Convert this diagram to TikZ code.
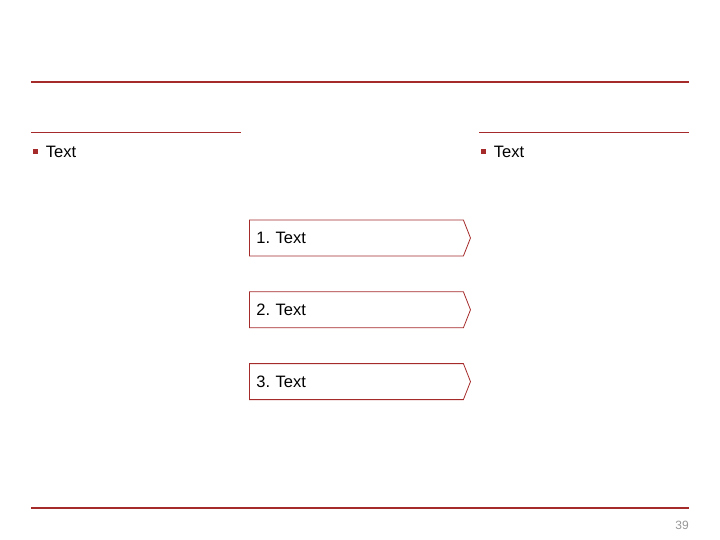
\documentclass[tikz,border=0pt]{standalone}
\usepackage{fontspec}
\setmainfont{Liberation Sans}
\usetikzlibrary{shapes.symbols,positioning}

\definecolor{slidered}{RGB}{165,42,42}
\definecolor{pagegray}{RGB}{150,150,150}

\begin{document}
\begin{tikzpicture}[x=1pt, y=-1pt]

\tikzstyle{rule}=[draw=slidered, line width=2pt]
\tikzstyle{thinrule}=[draw=slidered, line width=0.9pt]
\tikzstyle{bullet}=[fill=slidered, minimum size=5pt, inner sep=0pt]
\tikzstyle{txt}=[font=\fontsize{16.5}{19}\selectfont, inner sep=0pt, anchor=west]
\tikzstyle{schritt}=[signal, signal to=east, signal pointer angle=137, draw=slidered, line width=0.8pt, minimum width=221pt, minimum height=36pt, inner xsep=7pt, text width=200pt, align=left, font=\fontsize{16.5}{19}\selectfont]

\useasboundingbox (0,0) rectangle (720,540);

% rules
\coordinate (topL) at (31,82);
\coordinate (topR) at (689,82);
\coordinate (botL) at (31,508);
\coordinate (botR) at (689,508);
\draw[rule] (topL) -- (topR);
\draw[rule] (botL) -- (botR);
\draw[thinrule] (31,132) -- (241,132);
\draw[thinrule] (479,132) -- (689,132);

% bullets
\node[bullet] (bul1) at (35,152) {};
\node[txt, right=8pt of bul1] (text1) {Text};
\node[bullet] (bul2) at (483,152) {};
\node[txt, right=8pt of bul2] (text2) {Text};

% steps
\node[schritt, anchor=west] (step1) at (249,238) {1.\ Text};
\node[schritt, below=35pt of step1] (step2) {2.\ Text};
\node[schritt, below=35pt of step2] (step3) {3.\ Text};

\node[text=pagegray, font=\fontsize{12}{14}\selectfont, anchor=east, inner sep=0pt] (page) at (689,525) {39};

\end{tikzpicture}
\end{document}
